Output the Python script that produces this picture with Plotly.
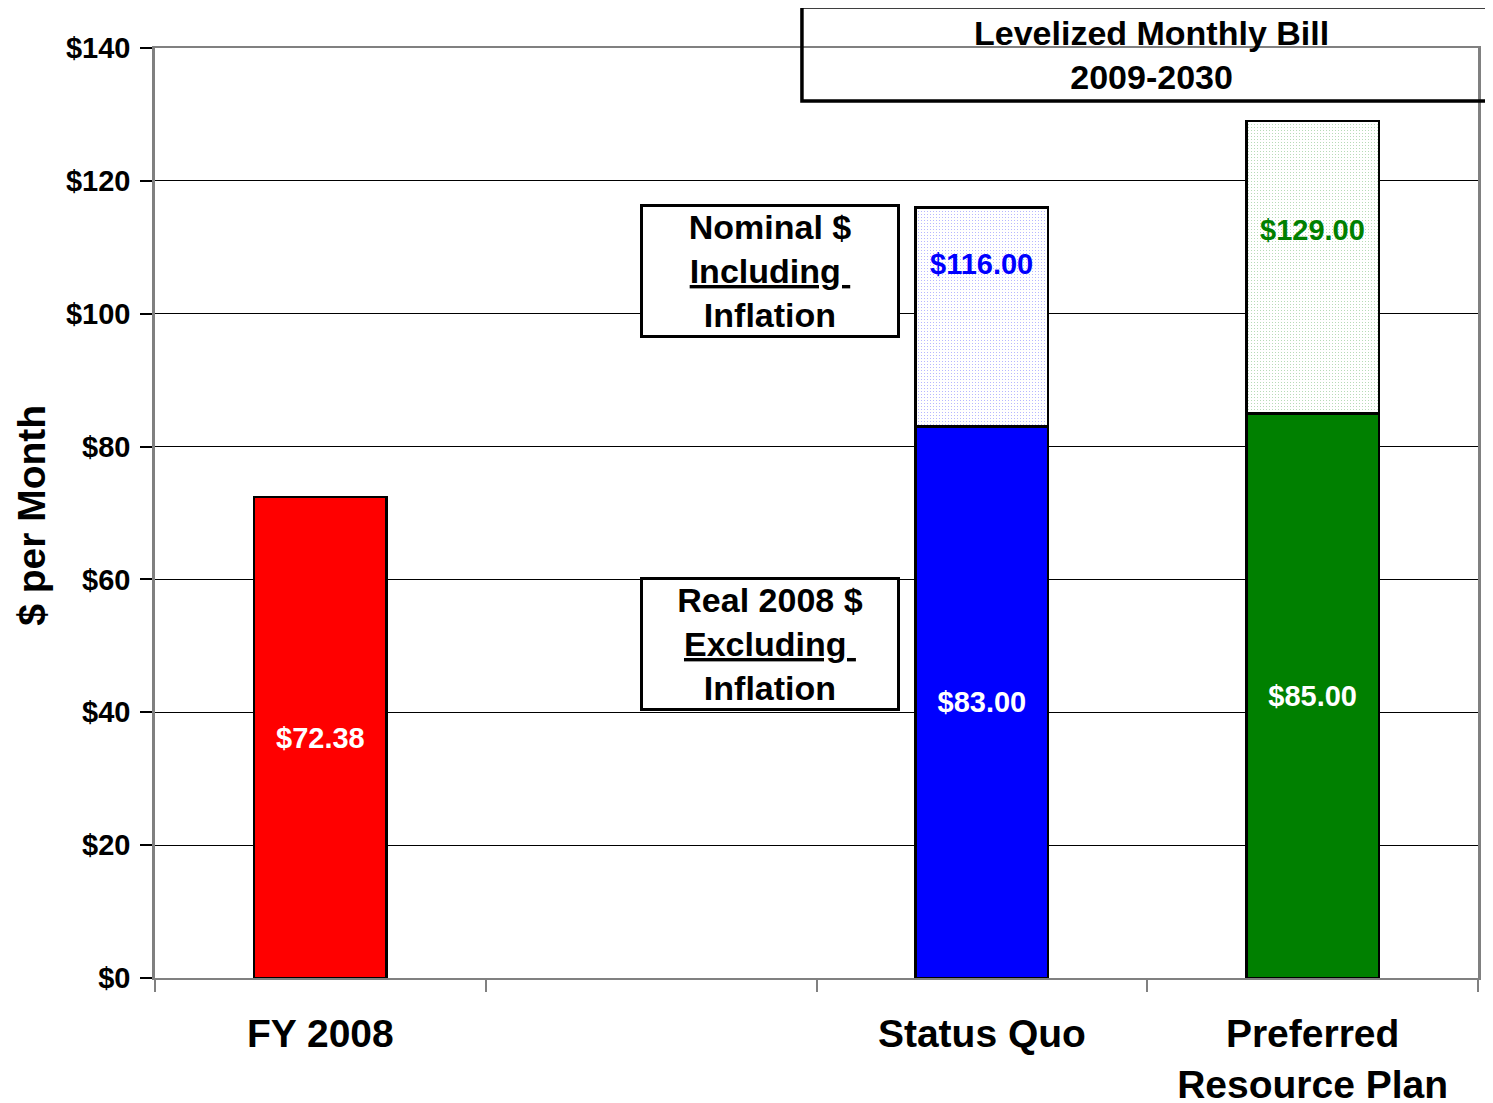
import plotly.graph_objects as go

# Data
categories = ["FY 2008", " ", "Status Quo", "Preferred<br>Resource Plan"]
real_2008 = [72.38, None, 83.00, 85.00]          # excluding inflation
nominal = [None, None, 116.00, 129.00]            # including inflation
bar_colors = ["#FF0000", "#FFFFFF", "#0000FF", "#008000"]
y_ticks = [0, 20, 40, 60, 80, 100, 120, 140]

FONT = "Liberation Sans, Arial, sans-serif"

# increment on top of the real value
extra = [n - r if (n is not None and r is not None) else None for n, r in zip(nominal, real_2008)]

fig = go.Figure()

fig.add_trace(go.Bar(
    x=categories, y=real_2008,
    marker=dict(color=bar_colors, line=dict(color="black", width=2.5)),
    text=["<b>${:.2f}</b>".format(v) if v is not None else "" for v in real_2008],
    textposition="inside", insidetextanchor="middle",
    textfont=dict(family=FONT, size=29, color="white"),
    textangle=0,
    showlegend=False,
))

fig.add_trace(go.Bar(
    x=categories, y=extra,
    marker=dict(
        color="white",
        line=dict(color="black", width=2.5),
        pattern=dict(shape=".", fgcolor=bar_colors, bgcolor="white",
                     size=3, solidity=0.08, fillmode="overlay"),
    ),
    showlegend=False,
))

# nominal value labels near the top of the upper segment
label_drop = {2: 8.5, 3: 16.4}
for i, v in enumerate(nominal):
    if v is None:
        continue
    fig.add_annotation(
        x=categories[i], y=v - label_drop[i], xref="x", yref="y",
        xanchor="center", yanchor="middle",
        text="<b>${:.2f}</b>".format(v), showarrow=False,
        font=dict(family=FONT, size=29, color=bar_colors[i]),
    )

# explanation boxes
box_font = dict(family=FONT, size=34, color="black")
for txt, yv in [("<b>Nominal $<br><u>Including </u><br>Inflation</b>", 106.5),
                ("<b>Real 2008 $<br><u>Excluding </u><br>Inflation</b>", 50.3)]:
    fig.add_annotation(
        x=0.4645, y=yv, xref="paper", yref="y",
        xanchor="center", yanchor="middle",
        text=txt, showarrow=False, font=box_font, align="center",
        bordercolor="black", borderwidth=3, bgcolor="white",
        width=254, height=128, borderpad=0,
    )

# title box, running off the right edge
fig.add_shape(type="rect", xref="paper", yref="paper",
              x0=0.489, x1=1.05, y0=0.943, y1=1.044,
              line=dict(color="black", width=3.5), fillcolor="rgba(0,0,0,0)")
fig.add_annotation(
    x=0.753, y=0.992, xref="paper", yref="paper",
    xanchor="center", yanchor="middle",
    text="<b>Levelized Monthly Bill<br>2009-2030</b>", showarrow=False,
    font=dict(family=FONT, size=34, color="black"), align="center",
)

# y axis title
fig.add_annotation(
    x=-0.093, y=0.498, xref="paper", yref="paper",
    xanchor="center", yanchor="middle",
    text="<b>$ per Month</b>", textangle=-90, showarrow=False,
    font=dict(family=FONT, size=39, color="black"),
)

# page body adds an 8px offset, so the figure is sized to match
fig.update_layout(
    width=1485, height=1095,
    margin=dict(l=147, r=15, t=40, b=125),
    barmode="stack", bargap=0.6,
    plot_bgcolor="white", paper_bgcolor="white",
    font=dict(family=FONT, color="black"),
)
fig.update_xaxes(
    tickfont=dict(family=FONT, size=39, color="black"),
    tickprefix="<b>", ticksuffix="</b>",
    tickson="boundaries", ticks="outside", ticklen=12, tickwidth=2, tickcolor="#808080",
    showline=True, linecolor="#808080", linewidth=2, mirror=True,
    showgrid=False, ticklabelstandoff=20, automargin=False,
)
fig.update_yaxes(
    range=[0, 140], tickvals=y_ticks,
    ticktext=["<b>${}</b>".format(t) for t in y_ticks],
    tickfont=dict(family=FONT, size=29, color="black"),
    ticks="outside", ticklen=12, tickwidth=1.5, tickcolor="black",
    showline=True, linecolor="#808080", linewidth=2.5, mirror=True,
    showgrid=True, gridcolor="black", gridwidth=1,
    zeroline=False, ticklabelstandoff=4, automargin=False,
)

fig.write_html("out.html")
